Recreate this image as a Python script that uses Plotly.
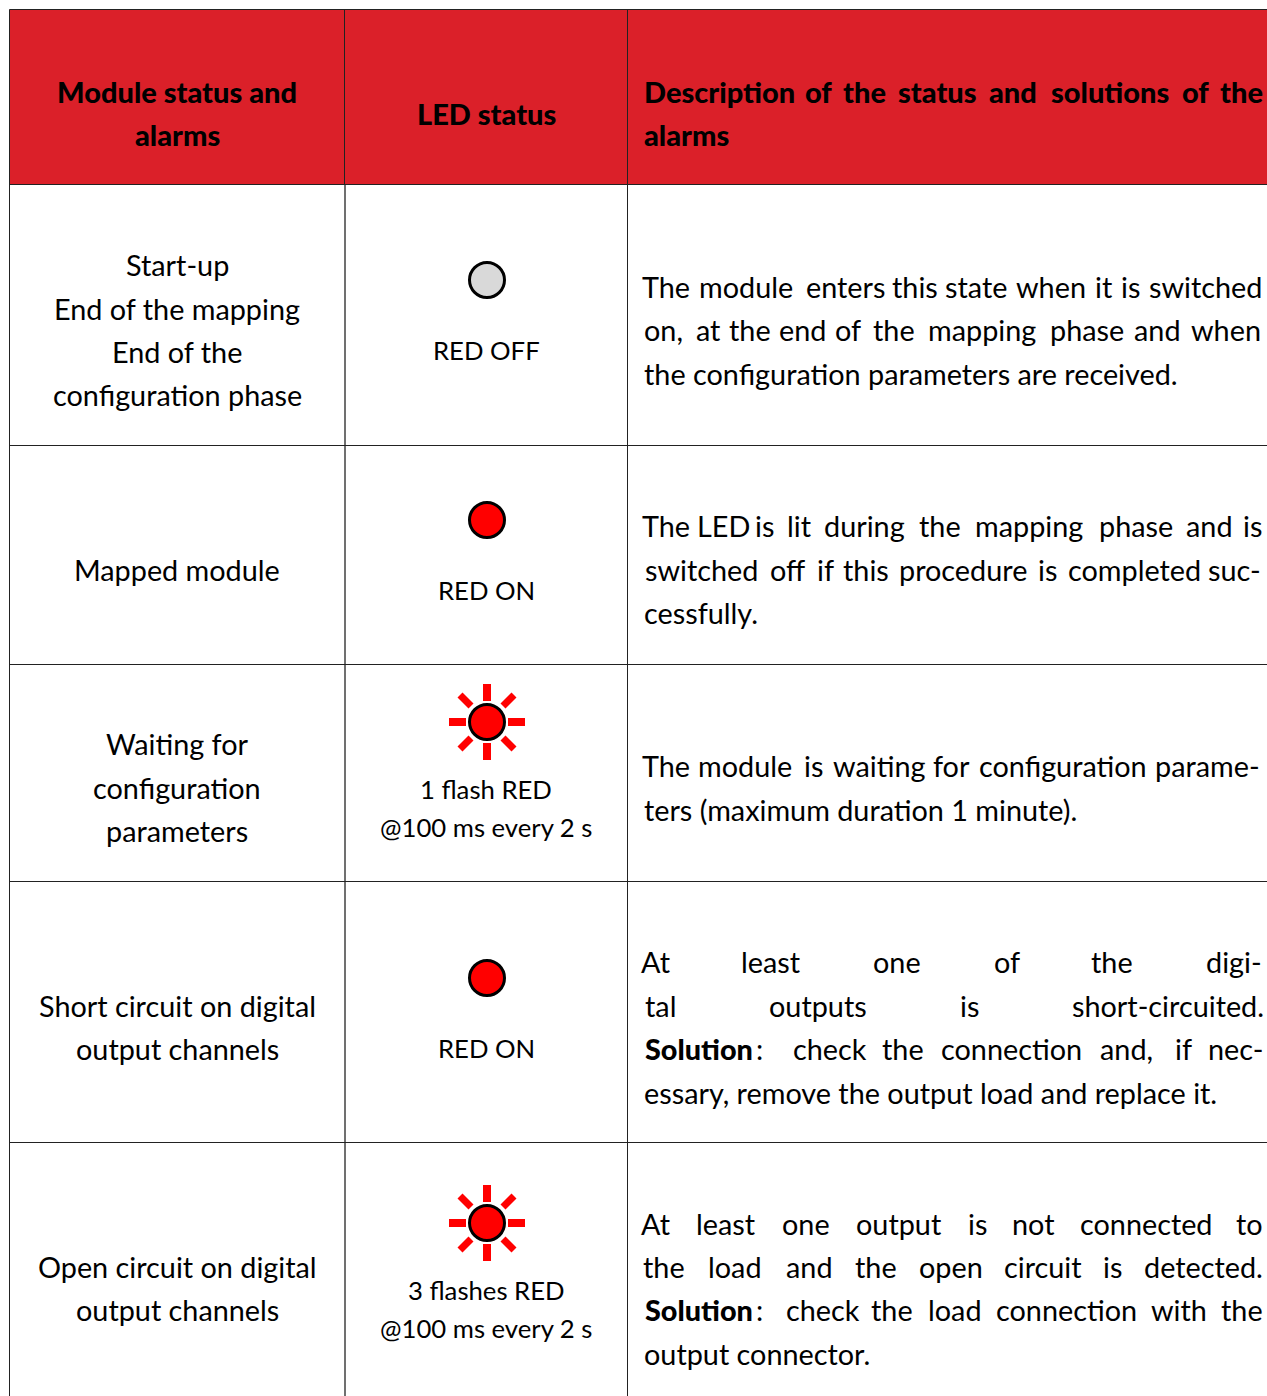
import plotly.graph_objects as go

# ---- content ----
HEADERS = [["Module status and", "alarms"], ["LED status"],
           ["Description of the status and solutions of the", "alarms"]]
STATUS = [
    ["Start-up", "End of the mapping", "End of the", "configuration phase"],
    ["Mapped module"],
    ["Waiting for", "configuration", "parameters"],
    ["Short circuit on digital", "output channels"],
    ["Open circuit on digital", "output channels"],
]
LED_KIND = ["off", "on", "flash", "on", "flash"]
LED_LABEL = [["RED OFF"], ["RED ON"], ["1 flash RED", "@100 ms every 2 s"], ["RED ON"],
             ["3 flashes RED", "@100 ms every 2 s"]]
# description: justified lines are word lists, last lines are plain strings
DESC = [
    [["The","module","enters","this","state","when","it","is","switched"],
     ["on,","at","the","end","of","the","mapping","phase","and","when"],
     "the configuration parameters are received."],
    [["The","LED","is","lit","during","the","mapping","phase","and","is"],
     ["switched","off","if","this","procedure","is","completed","suc-"],
     "cessfully."],
    [["The","module","is","waiting","for","configuration","parame-"],
     "ters (maximum duration 1 minute)."],
    [["At","least","one","of","the","digi-"],
     ["tal","outputs","is","short-circuited."],
     ["*Solution",":","check","the","connection","and,","if","nec-"],
     "essary, remove the output load and replace it."],
    [["At","least","one","output","is","not","connected","to"],
     ["the","load","and","the","open","circuit","is","detected."],
     ["*Solution",":","check","the","load","connection","with","the"],
     "output connector."],
]

# ---- layout (pixels of the page) ----
W, H = 1267, 1396
COL_EDGES = [9.5, 344.5, 627.5]
ROW_EDGES = [9.5, 184.5, 445.5, 664.5, 881.5, 1142.5]
COL1_X, COL2_X, COL3_X = 177, 486, 644
HEAD_Y = [[92, 135], [114], [92, 135]]
STATUS_Y = [[266, 310, 353, 396], [571], [745, 789, 832], [1007, 1050], [1268, 1311]]
LED_Y = [280, 520, 722, 978, 1223]
LED_X = 487
LABEL_Y = [[351], [591], [790, 828], [1049], [1291, 1329]]
DESC_Y = [[288, 331, 375], [527, 571, 614], [767, 811], [963, 1007, 1050, 1094], [1225, 1268, 1311, 1355]]
HEAD_WORD_CX = [219,464,577,757,941,1180,1392,1505]
HEAD_WORDS = HEADERS[2][0].split()
DESC_WORD_CX = [
    [[88,285,529,702,852,1035,1165,1232,1415],
     [83,192,295,425,537,649,866,1123,1297,1465]],
    [[88,231,332,417,578,763,981,1245,1425,1531],
     [176,387,481,580,818,1027,1240,1488]],
    [[88,283,451,612,792,1064,1420]],
    [[65,347,657,927,1186,1486],[75,462,836,1323],[170,318,491,672,938,1221,1361,1490]],
    [[65,235,432,661,854,993,1271,1523],[84,259,441,605,790,1016,1186,1410],[170,318,474,644,800,1075,1351,1505]],
]
ZOOM_X0, ZOOM_K = 630, 2.46
FONT = "Lato, sans-serif"
SIZE, HEAD_SIZE, LED_SIZE = 28.8, 29, 25.7
RED_HEAD, LINE = "#db2029", "#222222"
DY = -1

fig = go.Figure()
anns = []
def put(text, x, y, anchor="center", size=SIZE, weight=400):
    anns.append(dict(text=text, x=x, y=y + DY, xref="x", yref="y", showarrow=False, xanchor=anchor,
                     yanchor="middle", font=dict(family=FONT, size=size, color="#000", weight=weight),
                     borderpad=0, borderwidth=0))
zx = lambda p: ZOOM_X0 + p / ZOOM_K

shapes = [dict(type="rect", x0=COL_EDGES[0], x1=W, y0=ROW_EDGES[0], y1=ROW_EDGES[1], fillcolor=RED_HEAD,
               line=dict(width=0), layer="below")]
for yy in ROW_EDGES:
    shapes.append(dict(type="line", x0=COL_EDGES[0], x1=W, y0=yy, y1=yy, line=dict(color=LINE, width=1)))
shapes.append(dict(type="line", x0=COL_EDGES[0], x1=COL_EDGES[0], y0=ROW_EDGES[0], y1=H, line=dict(color=LINE, width=1)))
shapes.append(dict(type="line", x0=COL_EDGES[2], x1=COL_EDGES[2], y0=ROW_EDGES[0], y1=H, line=dict(color=LINE, width=1)))
shapes.append(dict(type="line", x0=COL_EDGES[1], x1=COL_EDGES[1], y0=ROW_EDGES[0], y1=ROW_EDGES[1], line=dict(color=LINE, width=1)))
shapes.append(dict(type="line", x0=COL_EDGES[1] + 0.5, x1=COL_EDGES[1] + 0.5, y0=ROW_EDGES[1], y1=H,
                   line=dict(color="#707070", width=2), layer="below"))

# header
for t, y in zip(HEADERS[0], HEAD_Y[0]):
    put(t, COL1_X, y, size=HEAD_SIZE, weight=900)
put(HEADERS[1][0], COL2_X, HEAD_Y[1][0], size=HEAD_SIZE, weight=900)
for w, p in zip(HEAD_WORDS, HEAD_WORD_CX):
    put(w, zx(p), HEAD_Y[2][0], size=HEAD_SIZE, weight=900)
put(HEADERS[2][1], COL3_X, HEAD_Y[2][1], anchor="left", size=HEAD_SIZE, weight=900)

# body
for r in range(5):
    for t, y in zip(STATUS[r], STATUS_Y[r]):
        put(t, COL1_X, y)
    for t, y in zip(LED_LABEL[r], LABEL_Y[r]):
        put(t, COL2_X, y, size=LED_SIZE)
    j = 0
    for line, y in zip(DESC[r], DESC_Y[r]):
        if isinstance(line, str):
            put(line, COL3_X, y, anchor="left")
        else:
            for w, p in zip(line, DESC_WORD_CX[r][j]):
                if w.startswith("*"):
                    put(w[1:], zx(p), y, weight=900)
                else:
                    put(w, zx(p), y)
            j += 1

# flash rays
RAY_AXIS = (21, 38)
RAY_DIAG = (16, 27)
ax_x, ax_y, dg_x, dg_y = [], [], [], []
for kind, cy in zip(LED_KIND, LED_Y):
    if kind != "flash":
        continue
    for sx, sy in [(1, 0), (-1, 0), (0, 1), (0, -1)]:
        ax_x += [LED_X + sx * RAY_AXIS[0], LED_X + sx * RAY_AXIS[1], None]
        ax_y += [cy + sy * RAY_AXIS[0], cy + sy * RAY_AXIS[1], None]
    for sx, sy in [(1, 1), (-1, 1), (1, -1), (-1, -1)]:
        dg_x += [LED_X + sx * RAY_DIAG[0], LED_X + sx * RAY_DIAG[1], None]
        dg_y += [cy + sy * RAY_DIAG[0], cy + sy * RAY_DIAG[1], None]
fig.add_trace(go.Scatter(x=ax_x, y=ax_y, mode="lines", line=dict(color="#ff0000", width=8), hoverinfo="skip"))
fig.add_trace(go.Scatter(x=dg_x, y=dg_y, mode="lines", line=dict(color="#ff0000", width=7), hoverinfo="skip"))
fig.add_trace(go.Scatter(x=[LED_X] * 5, y=LED_Y, mode="markers", hoverinfo="skip",
                         marker=dict(size=35, color=["#d9d9d9" if k == "off" else "#ff0000" for k in LED_KIND],
                                     line=dict(color="#000", width=3))))

fig.update_layout(width=W, height=H, margin=dict(l=0, r=0, t=0, b=0), showlegend=False,
                  paper_bgcolor="white", plot_bgcolor="white", shapes=shapes, annotations=anns,
                  xaxis=dict(range=[0, W], visible=False, fixedrange=True),
                  yaxis=dict(range=[H, 0], visible=False, fixedrange=True))
fig.write_html("out.html", config=dict(displayModeBar=False),
               post_script="document.body.style.margin='0';")
